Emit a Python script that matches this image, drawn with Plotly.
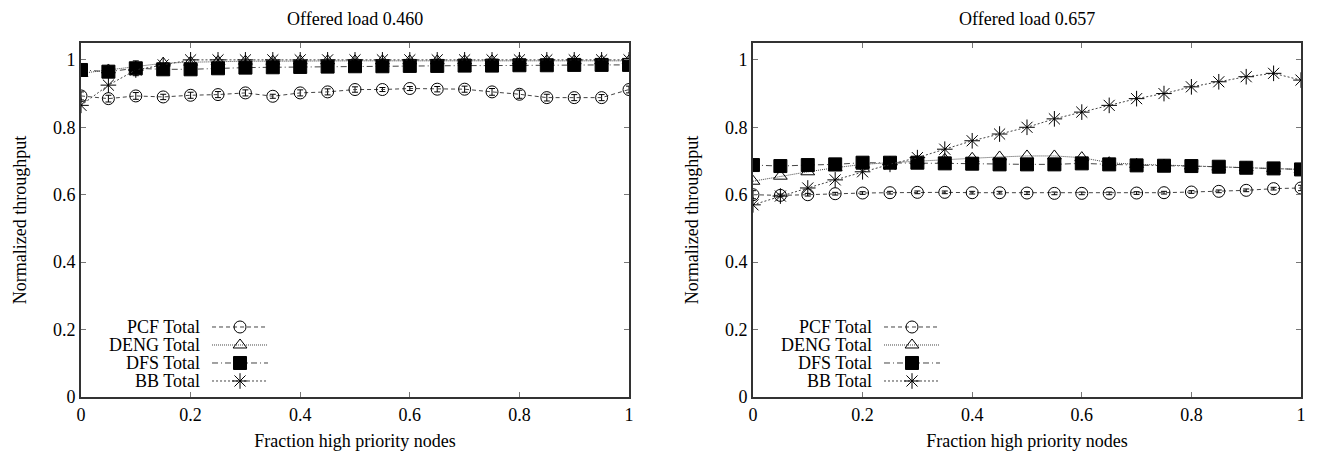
import plotly.graph_objects as go
from plotly.subplots import make_subplots

x = [i / 20 for i in range(21)]

titles = ["Offered load 0.460", "Offered load 0.657"]
series_names = ["PCF Total", "DENG Total", "DFS Total", "BB Total"]

# Offered load 0.460
pcf_a = [0.893, 0.885, 0.893, 0.890, 0.895, 0.897, 0.902, 0.892, 0.902, 0.905, 0.912,
         0.912, 0.915, 0.913, 0.913, 0.905, 0.898, 0.888, 0.888, 0.888, 0.912]
pcf_a_err = [0.012, 0.010, 0.010, 0.008, 0.009, 0.009, 0.009, 0.006, 0.009, 0.009, 0.008,
             0.006, 0.006, 0.008, 0.009, 0.010, 0.012, 0.010, 0.009, 0.009, 0.010]
deng_a = [0.960, 0.970, 0.978, 0.990, 0.993, 0.995, 0.996, 0.996, 0.997, 0.997, 0.997,
          0.997, 0.997, 0.997, 0.997, 0.997, 0.997, 0.997, 0.997, 0.997, 0.997]
dfs_a = [0.970, 0.965, 0.975, 0.972, 0.972, 0.975, 0.977, 0.978, 0.979, 0.980, 0.981,
         0.981, 0.982, 0.982, 0.983, 0.983, 0.984, 0.984, 0.985, 0.985, 0.985]
dfs_a_err = [0.015, 0.006, 0.022, 0.006, 0.005, 0.004, 0.004, 0.004, 0.004, 0.004, 0.004,
             0.004, 0.004, 0.004, 0.004, 0.004, 0.004, 0.004, 0.004, 0.004, 0.004]
bb_a = [0.865, 0.925, 0.970, 0.985, 1.000, 1.000, 1.000, 1.000, 1.000, 1.000, 1.000,
        1.000, 1.000, 1.000, 1.000, 1.000, 1.000, 1.000, 1.000, 1.000, 1.000]

# Offered load 0.657
pcf_b = [0.600, 0.598, 0.600, 0.603, 0.605, 0.606, 0.607, 0.607, 0.606, 0.606, 0.605,
         0.604, 0.604, 0.604, 0.605, 0.606, 0.608, 0.610, 0.613, 0.618, 0.620]
pcf_b_err = [0.012, 0.004, 0.004, 0.004, 0.004, 0.004, 0.004, 0.004, 0.004, 0.004, 0.004,
             0.004, 0.004, 0.004, 0.004, 0.004, 0.004, 0.004, 0.004, 0.004, 0.008]
deng_b = [0.640, 0.655, 0.668, 0.680, 0.690, 0.695, 0.700, 0.705, 0.708, 0.712, 0.715,
          0.715, 0.710, 0.695, 0.690, 0.688, 0.685, 0.682, 0.680, 0.678, 0.675]
dfs_b = [0.688, 0.685, 0.688, 0.690, 0.695, 0.695, 0.695, 0.693, 0.692, 0.690, 0.690,
         0.690, 0.693, 0.690, 0.687, 0.686, 0.685, 0.683, 0.680, 0.678, 0.675]
bb_b = [0.570, 0.596, 0.620, 0.644, 0.668, 0.690, 0.710, 0.735, 0.760, 0.780, 0.800,
        0.825, 0.845, 0.865, 0.885, 0.900, 0.920, 0.935, 0.950, 0.960, 0.940]

x_ticks = [0, 0.2, 0.4, 0.6, 0.8, 1]
y_ticks = [0, 0.2, 0.4, 0.6, 0.8, 1]
tick_text = ["0", "0.2", "0.4", "0.6", "0.8", "1"]

FONT = "Liberation Serif"
FS = 18
LINE_COLOR = "#444444"

styles = [
    dict(symbol="circle-open", size=12, dash="4px,3px"),
    dict(symbol="triangle-up-open", size=12, dash="1px,1px"),
    dict(symbol="square", size=13, dash="6px,3px,1px,3px"),
    dict(symbol="asterisk-open", size=13, dash="2px,2px"),
]

fig = make_subplots(rows=1, cols=2, horizontal_spacing=0.1016)

panels = [
    ([pcf_a, deng_a, dfs_a, bb_a], [pcf_a_err, None, dfs_a_err, None]),
    ([pcf_b, deng_b, dfs_b, bb_b], [pcf_b_err, None, None, None]),
]

for col, (ys, errs) in enumerate(panels, start=1):
    for name, yv, err, st in zip(series_names, ys, errs, styles):
        kw = {}
        if err is not None:
            kw["error_y"] = dict(type="data", array=err, visible=True, color="black",
                                 thickness=1, width=3)
        fig.add_trace(go.Scatter(
            x=x, y=yv, name=name, mode="lines+markers", showlegend=False,
            line=dict(color=LINE_COLOR, width=1, dash=st["dash"]),
            marker=dict(symbol=st["symbol"], size=st["size"], color="black",
                        line=dict(color="black", width=1)),
            **kw), row=1, col=col)

axis_common = dict(
    showline=True, linecolor="#333333", linewidth=2, mirror="ticks",
    ticks="inside", ticklen=5, tickcolor="#777777", showgrid=False, zeroline=False,
    tickfont=dict(family=FONT, size=FS, color="black"), automargin=False,
)

for c in (1, 2):
    fig.update_xaxes(range=[0, 1], tickvals=x_ticks, ticktext=tick_text,
                     title=dict(text="Fraction high priority nodes",
                                font=dict(family=FONT, size=FS, color="black"), standoff=13),
                     row=1, col=c, **axis_common)
    fig.update_yaxes(range=[0, 1.05], tickvals=y_ticks, ticktext=tick_text,
                     title=dict(text="Normalized throughput",
                                font=dict(family=FONT, size=FS, color="black"), standoff=22),
                     row=1, col=c, **axis_common)

# Custom legends (text right-aligned, sample on the right), in hidden helper axes
leg_ydom = [0.0198, 0.2232]
leg_text_x = [0.0992, 0.0992 + 0.5508]
leg_samp_dom = [[0.1074, 0.1533], [0.1074 + 0.5508, 0.1533 + 0.5508]]
hidden = dict(visible=False, fixedrange=True)
fig.update_layout(
    xaxis3=dict(domain=leg_samp_dom[0], range=[0, 1], anchor="y3", **hidden),
    yaxis3=dict(domain=leg_ydom, range=[3.5, -0.5], anchor="x3", **hidden),
    xaxis4=dict(domain=leg_samp_dom[1], range=[0, 1], anchor="y4", **hidden),
    yaxis4=dict(domain=leg_ydom, range=[3.5, -0.5], anchor="x4", **hidden),
)

annotations = []
for p, (xa, ya) in enumerate([("x3", "y3"), ("x4", "y4")]):
    for i, (name, st) in enumerate(zip(series_names, styles)):
        fig.add_trace(go.Scatter(
            x=[0, 1], y=[i, i], mode="lines", showlegend=False, hoverinfo="skip",
            line=dict(color=LINE_COLOR, width=1, dash=st["dash"]),
            xaxis=xa, yaxis=ya))
        fig.add_trace(go.Scatter(
            x=[0.5], y=[i], mode="markers", showlegend=False, hoverinfo="skip",
            marker=dict(symbol=st["symbol"], size=st["size"], color="black",
                        line=dict(color="black", width=1)),
            xaxis=xa, yaxis=ya))
        annotations.append(dict(
            text=name, xref="paper", yref=ya, x=leg_text_x[p], y=i,
            xanchor="right", yanchor="middle", showarrow=False,
            font=dict(family=FONT, size=FS, color="black")))

for p, t in enumerate(titles):
    annotations.append(dict(
        text=t, xref="paper", yref="paper", x=[0.2246, 0.7754][p], y=1,
        xanchor="center", yanchor="middle", yshift=24, showarrow=False,
        font=dict(family=FONT, size=FS, color="black")))

fig.update_layout(
    width=1301, height=443,
    margin=dict(l=73, r=8, t=35, b=54),
    plot_bgcolor="white", paper_bgcolor="white",
    font=dict(family=FONT, size=FS, color="black"),
    showlegend=False,
    annotations=annotations,
)

fig.write_html("out.html")
